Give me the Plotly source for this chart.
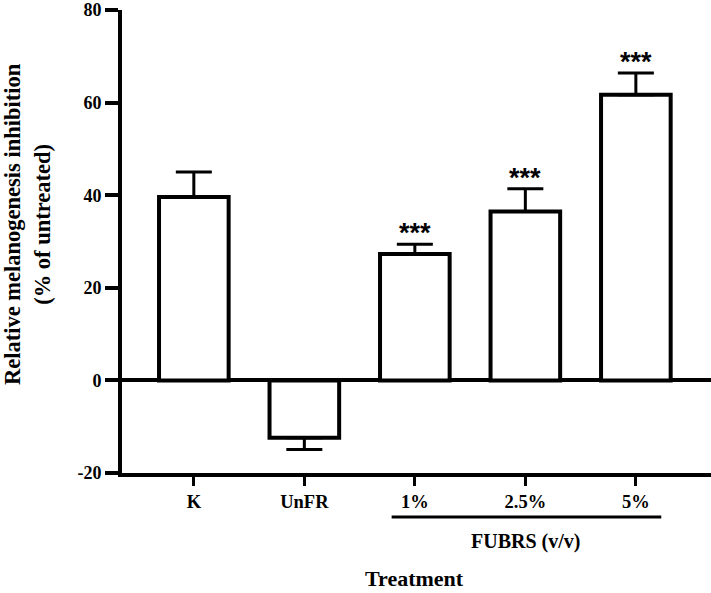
import plotly.graph_objects as go

categories = ["K", "UnFR", "1%", "2.5%", "5%"]
values = [39.6, -12.4, 27.3, 36.5, 61.7]
err_up = [5.4, 0.0, 2.1, 4.9, 4.7]
err_down = [0.0, 2.5, 0.0, 0.0, 0.0]
significance = ["", "", "***", "***", "***"]
y_ticks = [-20, 0, 20, 40, 60, 80]
group_label = "FUBRS (v/v)"
group_members = ["1%", "2.5%", "5%"]

serif = "Liberation Serif, Times New Roman, serif"

fig = go.Figure()
fig.add_trace(go.Bar(
    x=categories, y=values, width=0.63,
    marker=dict(color="white", line=dict(color="black", width=4)),
    error_y=dict(type="data", symmetric=False, array=err_up, arrayminus=err_down,
                 color="black", thickness=3, width=18),
))

annotations = []
for c, v, e, s in zip(categories, values, err_up, significance):
    if s:
        annotations.append(dict(
            x=c, y=v + e, xref="x", yref="y", text="<b>%s</b>" % s,
            showarrow=False, yanchor="bottom", yshift=-6,
            font=dict(family="Liberation Sans, Arial, sans-serif", size=27, color="black"),
        ))

i0 = categories.index(group_members[0])
i1 = categories.index(group_members[-1])
annotations.append(dict(
    x=(i0 + i1) / 2, y=-0.149, xref="x", yref="paper", text="<b>%s</b>" % group_label,
    showarrow=False, xanchor="center", yanchor="middle",
    font=dict(family=serif, size=20, color="black"),
))
annotations.append(dict(
    x=0.497, y=-0.228, xref="paper", yref="paper", text="<b>Treatment</b>",
    showarrow=False, xanchor="center", yanchor="middle",
    font=dict(family=serif, size=22, color="black"),
))
annotations.append(dict(
    x=-0.161, y=0.538, xref="paper", yref="paper",
    text="<b>Relative melanogenesis inhibition<br>(% of untreated)</b>",
    showarrow=False, xanchor="center", yanchor="middle", textangle=-90,
    font=dict(family=serif, size=22.5, color="black"),
))

fig.update_layout(
    width=711, height=593,
    margin=dict(l=122, r=0, t=6, b=119.5),
    paper_bgcolor="white", plot_bgcolor="white",
    showlegend=False,
    annotations=annotations,
    shapes=[dict(type="line", xref="x", yref="paper",
                 x0=i0 - 0.21, x1=i1 + 0.23, y0=-0.095, y1=-0.095,
                 line=dict(color="black", width=3))],
    xaxis=dict(
        type="category", categoryorder="array", categoryarray=categories,
        range=[-0.65, 4.68], showline=True, linecolor="black", linewidth=4,
        ticks="outside", ticklen=9, tickwidth=3, tickcolor="black",
        showgrid=False, zeroline=False,
        tickfont=dict(family=serif, size=18.5, color="black"),
        tickvals=categories, ticktext=["<b>%s</b>" % c for c in categories],
    ),
    yaxis=dict(
        range=[-20, 80], tickvals=y_ticks, ticktext=["<b>%d</b>" % t for t in y_ticks],
        showline=True, linecolor="black", linewidth=4,
        ticks="outside", ticklen=13, tickwidth=4, tickcolor="black",
        showgrid=False, zeroline=True, zerolinecolor="black", zerolinewidth=4,
        tickfont=dict(family=serif, size=18, color="black"),
        ticklabeloverflow="allow",
    ),
)

fig.write_html("out.html")
